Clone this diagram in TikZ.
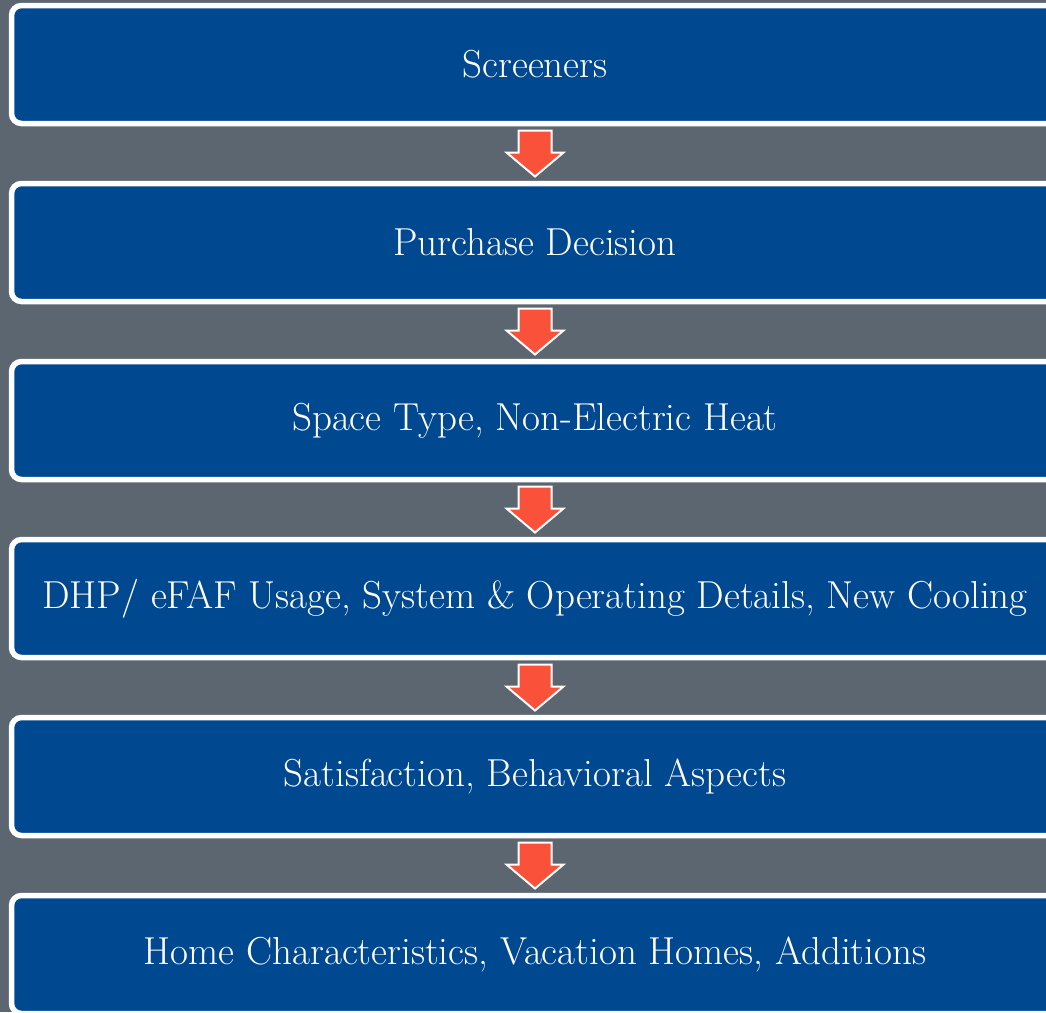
\documentclass[tikz,border=0pt]{standalone}
\usepackage{xcolor}
\usepackage{tikz}
\usetikzlibrary{calc}

\definecolor{slate}{RGB}{91,102,112}
\definecolor{stageblue}{RGB}{0,73,144}
\definecolor{flowred}{RGB}{250,82,58}

\tikzset{
  stage/.style={
    draw=white, line width=5.5pt, fill=stageblue, rounded corners=10pt,
    minimum width=1047pt, minimum height=118pt, inner sep=0pt,
    text=white, font=\fontsize{39}{44}\selectfont
  },
  flowarrow/.style={fill=flowred, draw=white, line width=2pt, line join=miter}
}

\begin{document}
\begin{tikzpicture}[x=1pt, y=-1pt]
  \def\pitch{178}
  \def\shaft{16.5}
  \def\head{28.5}
  \fill[slate] (0,0) rectangle (1046,1012);
  \useasboundingbox (0,0) rectangle (1046,1012);

  \node[stage] (b1) at (535, 64.5) {Screeners};
  \node[stage] (b2) at (535, 64.5+\pitch) {Purchase Decision};
  \node[stage] (b3) at (535, 64.5+2*\pitch) {Space Type, Non-Electric Heat};
  \node[stage] (b4) at (535, 64.5+3*\pitch)
    {DHP/ eFAF Usage, System \& Operating Details, New Cooling};
  \node[stage] (b5) at (535, 64.5+4*\pitch) {Satisfaction, Behavioral Aspects};
  \node[stage] (b6) at (535, 64.5+5*\pitch)
    {Home Characteristics, Vacation Homes, Additions};

  % block arrows between the stages
  \foreach \i/\j in {1/2, 2/3, 3/4, 4/5, 5/6}{
    \coordinate (m\i) at ($(b\i.south)!0.5!(b\j.north)$);
    \draw[flowarrow]
      (m\i) ++ (-\shaft, -23)
      -- ++ (2*\shaft, 0)
      -- ++ (0, 22)
      -- ++ (\head-\shaft, 0)
      -- ($(m\i) + (0, 23)$)
      -- ($(m\i) + (-\head, -1)$)
      -- ++ (\head-\shaft, 0)
      -- cycle;
  }
\end{tikzpicture}
\end{document}
